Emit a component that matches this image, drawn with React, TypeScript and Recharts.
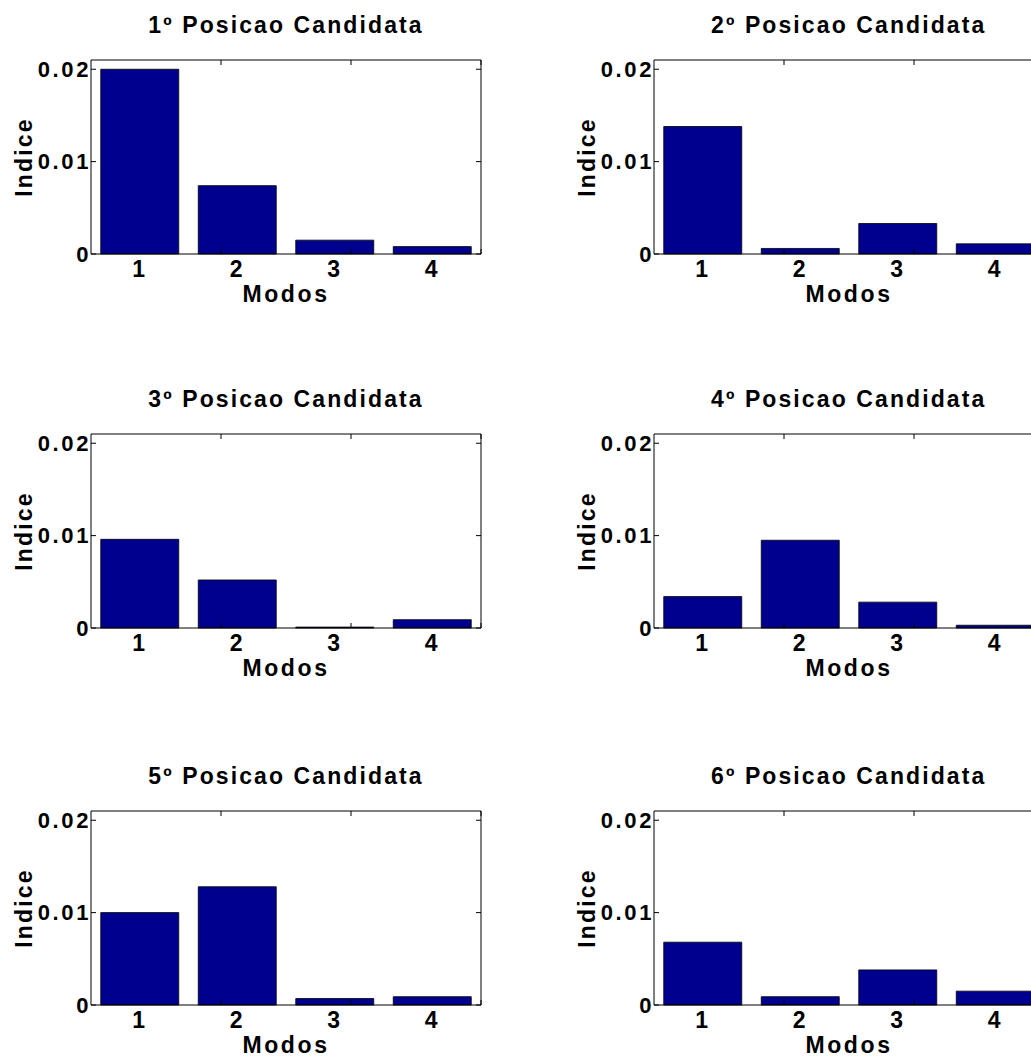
import React from "react"
import { BarChart, Bar, XAxis, YAxis } from "recharts"

const MODOS = ["1", "2", "3", "4"]
const MODO_TICKS = [1, 2, 3, 4]
const Y_TICKS = [0, 0.01, 0.02]
const Y_MAX = 0.021

const TITULOS = [
  "1º Posicao Candidata",
  "2º Posicao Candidata",
  "3º Posicao Candidata",
  "4º Posicao Candidata",
  "5º Posicao Candidata",
  "6º Posicao Candidata",
]

// indice per modo
const POSICAO_1 = [0.02, 0.0074, 0.0015, 0.0008]
const POSICAO_2 = [0.0138, 0.0006, 0.0033, 0.0011]
const POSICAO_3 = [0.0096, 0.0052, 0.0001, 0.0009]
const POSICAO_4 = [0.0034, 0.0095, 0.0028, 0.0003]
const POSICAO_5 = [0.01, 0.0128, 0.0007, 0.0009]
const POSICAO_6 = [0.0068, 0.0009, 0.0038, 0.0015]

const SERIES = [POSICAO_1, POSICAO_2, POSICAO_3, POSICAO_4, POSICAO_5, POSICAO_6]

const FONT = "'Liberation Sans', Arial, Helvetica, sans-serif"
const BAR_COLOR = "#00008f"

// layout of the 3x2 grid
const COL_LEFT = [0, 562.7]
const ROW_TOP = [0, 374, 751]
const CHART_W = 500
const CHART_H = 320
const PLOT_LEFT = 91
const PLOT_TOP = 60
const PLOT_W = 390
const PLOT_H = 194

const boldText = {
  fontFamily: FONT,
  fontWeight: "bold" as const,
}

const noLabel = () => ""

const XLabel = ({ viewBox }: any) => {
  const { x, y, width } = viewBox
  return (
    <text
      x={x + width / 2}
      y={y + 48}
      textAnchor="middle"
      fill="#000"
      fontSize={23}
      style={{ ...boldText, letterSpacing: "2.6px" }}
    >
      Modos
    </text>
  )
}

const YLabel = ({ viewBox }: any) => {
  const { y, height } = viewBox
  const cx = 32
  const cy = y + height / 2
  return (
    <text
      x={cx}
      y={cy}
      transform={`rotate(-90 ${cx} ${cy})`}
      textAnchor="middle"
      fill="#000"
      fontSize={23}
      style={{ ...boldText, letterSpacing: "2.2px" }}
    >
      Indice
    </text>
  )
}

function Painel({ titulo, valores, left, top }: { titulo: string; valores: number[]; left: number; top: number }) {
  const data = MODOS.map((m, i) => ({ modo: m, indice: valores[i] }))
  // inner tick marks: mirrored axes with empty labels
  const innerTick = { fill: "none", fontSize: 1 }
  return (
    <div style={{ position: "absolute", left, top, width: CHART_W, height: CHART_H }}>
      <div
        style={{
          position: "absolute",
          left: PLOT_LEFT - 20,
          top: 14,
          width: PLOT_W + 40,
          textAlign: "center",
          fontSize: 23,
          lineHeight: "23px",
          color: "#000",
          whiteSpace: "nowrap",
          letterSpacing: "2.1px",
          ...boldText,
        }}
      >
        {titulo}
      </div>
      <BarChart
        width={CHART_W}
        height={CHART_H}
        data={data}
        margin={{ top: PLOT_TOP, right: CHART_W - PLOT_LEFT - PLOT_W, bottom: 0, left: 0 }}
        barCategoryGap="10%"
      >
        <XAxis
          dataKey="modo"
          height={CHART_H - PLOT_TOP - PLOT_H}
          interval={0}
          tickLine={false}
          tickSize={0}
          tickMargin={7}
          axisLine={{ stroke: "#000", strokeWidth: 1 }}
          tick={{ fill: "#000", fontSize: 23, style: { ...boldText, letterSpacing: "2px" } }}
          label={<XLabel />}
        />
        <XAxis
          xAxisId="baixo"
          type="number"
          domain={[0.5, 4.5]}
          ticks={MODO_TICKS}
          allowDataOverflow
          orientation="bottom"
          mirror
          tick={innerTick}
          tickFormatter={noLabel}
          axisLine={false}
          tickSize={5}
          tickLine={{ stroke: "#000", strokeWidth: 1 }}
        />
        <XAxis
          xAxisId="topo"
          type="number"
          domain={[0.5, 4.5]}
          ticks={MODO_TICKS}
          allowDataOverflow
          orientation="top"
          mirror
          tick={innerTick}
          tickFormatter={noLabel}
          axisLine={{ stroke: "#000" }}
          tickSize={5}
          tickLine={{ stroke: "#000", strokeWidth: 1 }}
        />
        <YAxis
          domain={[0, Y_MAX]}
          ticks={Y_TICKS}
          width={PLOT_LEFT}
          tickLine={false}
          tickSize={0}
          tickMargin={0}
          axisLine={{ stroke: "#000", strokeWidth: 1 }}
          tick={{ fill: "#000", fontSize: 22, style: { ...boldText, letterSpacing: "2.6px" } }}
          label={<YLabel />}
        />
        <YAxis
          yAxisId="esq"
          domain={[0, Y_MAX]}
          ticks={Y_TICKS}
          allowDataOverflow
          orientation="left"
          mirror
          tick={innerTick}
          tickFormatter={noLabel}
          axisLine={false}
          tickSize={5}
          tickLine={{ stroke: "#000", strokeWidth: 1 }}
        />
        <YAxis
          yAxisId="dir"
          domain={[0, Y_MAX]}
          ticks={Y_TICKS}
          allowDataOverflow
          orientation="right"
          mirror
          tick={innerTick}
          tickFormatter={noLabel}
          axisLine={{ stroke: "#000" }}
          tickSize={5}
          tickLine={{ stroke: "#000", strokeWidth: 1 }}
        />
        <Bar dataKey="indice" fill={BAR_COLOR} stroke="#000" strokeWidth={0.8} isAnimationActive={false} />
      </BarChart>
    </div>
  )
}

export default function App() {
  return (
    <div style={{ position: "fixed", left: 0, top: 0, width: 1031, height: 1057, overflow: "hidden", background: "#fff" }}>
      {SERIES.map((valores, i) => (
        <Painel
          key={i}
          titulo={TITULOS[i]}
          valores={valores}
          left={COL_LEFT[i % 2]}
          top={ROW_TOP[Math.floor(i / 2)]}
        />
      ))}
    </div>
  )
}
